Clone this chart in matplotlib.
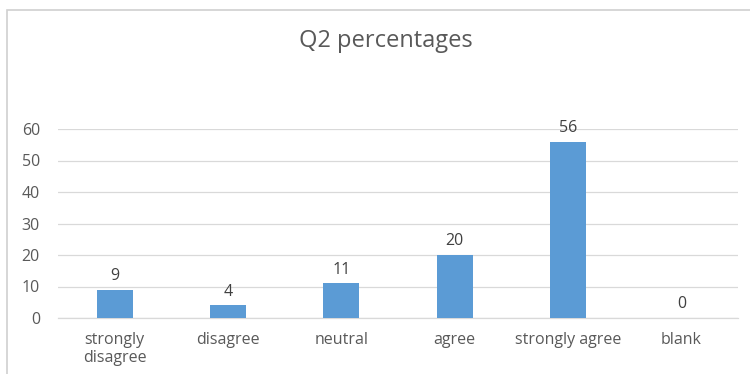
import matplotlib as mpl
import matplotlib.pyplot as plt
from matplotlib.patches import Rectangle

categories = ['strongly\ndisagree', 'disagree', 'neutral', 'agree',
              'strongly agree', 'blank']
percentages = [9, 4, 11, 20, 56, 0]
yticks = [0, 10, 20, 30, 40, 50, 60]

mpl.rcParams['font.family'] = ['Open Sans', 'DejaVu Sans']
mpl.rcParams['font.size'] = 11.5

fig = plt.figure(figsize=(7.5, 3.74), dpi=100)
ax = fig.add_axes([58 / 750, 1 - 318 / 374, 680 / 750, 189 / 374])

# chart frame
fig.patches.append(Rectangle((7 / 750, -0.1), 1.2, 1 - 10 / 374 + 0.1,
                             transform=fig.transFigure, facecolor='none',
                             edgecolor='#d0d0d0', linewidth=1.2))

x = range(len(categories))
bars = ax.bar(x, percentages, width=0.32, color='#5b9bd5', zorder=3)
ax.bar_label(bars, labels=[str(v) for v in percentages], padding=4,
             color='#404040', fontsize=11.5)

ax.set_xlim(-0.5, len(categories) - 0.5)
ax.set_ylim(0, 60)
ax.set_yticks(yticks)
ax.set_xticks(list(x))
ax.set_xticklabels(categories, linespacing=1.2)
ax.grid(axis='y', color='#d9d9d9', linewidth=0.9, zorder=0)
ax.set_axisbelow(True)
for side in ['top', 'right', 'left']:
    ax.spines[side].set_visible(False)
ax.spines['bottom'].set_color('#d9d9d9')
ax.spines['bottom'].set_linewidth(0.9)
ax.tick_params(axis='both', length=0, colors='#595959', labelsize=11.5)
ax.tick_params(axis='y', pad=13)
ax.tick_params(axis='x', pad=10)

fig.text(386 / 750, 1 - 41 / 374, 'Q2 percentages', ha='center', va='center',
         fontsize=17, color='#595959')

plt.savefig('out.png', dpi=100)
